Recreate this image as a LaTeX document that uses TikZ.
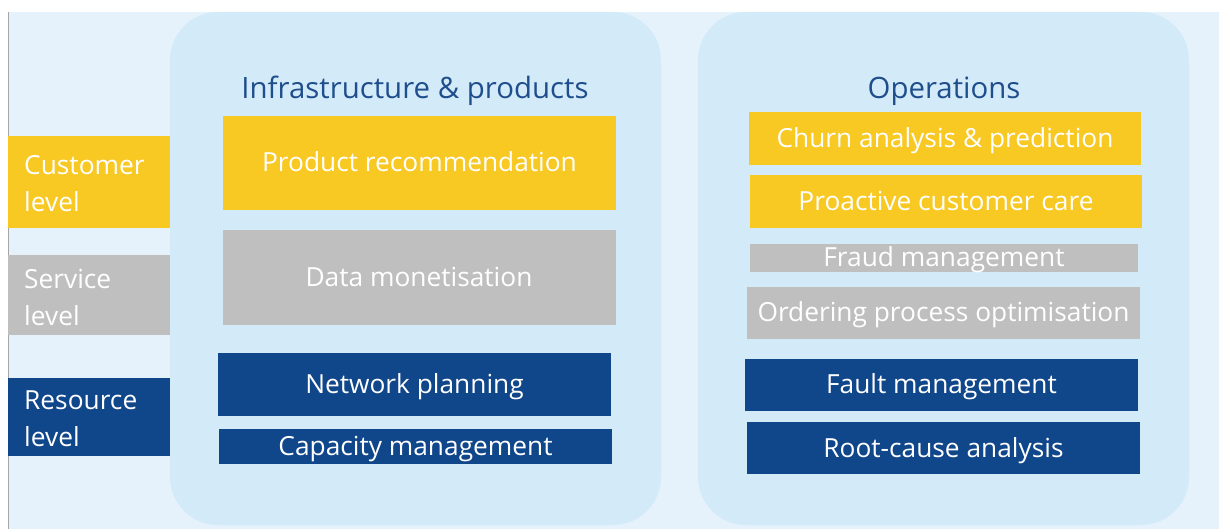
\documentclass[tikz,border=0pt]{standalone}
\usepackage{fontspec}
\setmainfont{Open Sans}
\definecolor{bgblue}{HTML}{E5F2FC}
\definecolor{panelblue}{HTML}{D3EAF9}
\definecolor{ylw}{HTML}{F8C823}
\definecolor{gry}{HTML}{BFBFBF}
\definecolor{dblue}{HTML}{10468A}
\definecolor{ttl}{HTML}{1F4E8C}
\tikzset{
  box/.style={inner sep=0pt, text=white, text height=22pt, text depth=4pt, font=\fontsize{26.3}{30}\selectfont},
  ylwbox/.style={box, fill=ylw},
  grybox/.style={box, fill=gry},
  bluebox/.style={box, fill=dblue},
  panel/.style={fill=panelblue, rounded corners=48pt},
  paneltitle/.style={text=ttl, font=\fontsize{29.4}{32}\selectfont},
  lvl/.style={inner sep=0pt, text=white, align=left, font=\fontsize{26.3}{37}\selectfont}
}
\begin{document}
\begin{tikzpicture}[x=1pt,y=-1pt]
\useasboundingbox (0,0) rectangle (1219,529);
\fill[white] (0,0) rectangle (1219,529);
\fill[bgblue] (8,12) rectangle (1219,529);
\draw[gray!70, line width=1pt] (8.5,12) -- (8.5,529);
% panels
\fill[panel] (170,12) rectangle (661,525);
\fill[panel] (698,12) rectangle (1189,525);
% titles
\node[paneltitle] (t1) at (415,91) {Infrastructure \& products};
\node[paneltitle] (t2) at (944,91) {Operations};
% level labels
\fill[ylw] (8,136) rectangle (170,228);
\fill[gry] (8,255) rectangle (170,335);
\fill[dblue] (8,378) rectangle (170,456);
\node[lvl, anchor=west] (cl) at (24,184) {Customer\\level};
\node[lvl, anchor=west] (sl) at (24,297) {Service\\level};
\node[lvl, anchor=west] (rl) at (24,419) {Resource\\level};
% left panel boxes
\node[ylwbox, minimum width=393pt, minimum height=94pt] (pr) at (419.5,163) {Product recommendation};
\node[grybox, minimum width=393pt, minimum height=95pt] (dm) at (419,277.5) {Data monetisation};
\node[bluebox, minimum width=393pt, minimum height=63pt] (np) at (414.5,384.5) {Network planning};
\node[bluebox, minimum width=393pt, minimum height=35pt] (cm) at (415.5,446.5) {Capacity management};
% right panel boxes
\node[ylwbox, minimum width=392pt, minimum height=53pt] (ch) at (945,138.5) {Churn analysis \& prediction};
\node[ylwbox, minimum width=392pt, minimum height=53pt] (pc) at (946,201.5) {Proactive customer care};
\node[grybox, minimum width=388pt, minimum height=28pt] (fr) at (944,258) {Fraud management};
\node[grybox, minimum width=393pt, minimum height=52pt] (op) at (943.5,313) {Ordering process optimisation};
\node[bluebox, minimum width=393pt, minimum height=52pt] (fm) at (941.5,385) {Fault management};
\node[bluebox, minimum width=393pt, minimum height=52pt] (rc) at (943.5,448) {Root-cause analysis};
\end{tikzpicture}
\end{document}
